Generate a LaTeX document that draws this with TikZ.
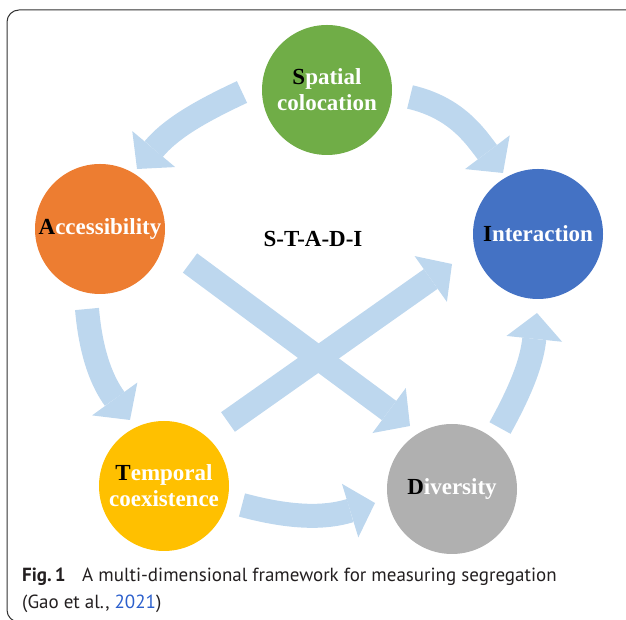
\documentclass[tikz,border=0pt]{standalone}
\usepackage{fontspec}
\setmainfont{Liberation Serif}
\newfontfamily\capfont{PT Sans}
\usetikzlibrary{arrows.meta}
\definecolor{arrowblue}{HTML}{BDD7EE}
\definecolor{sgreen}{HTML}{70AD47}
\definecolor{aorange}{HTML}{ED7D31}
\definecolor{iblue}{HTML}{4472C4}
\definecolor{tyellow}{HTML}{FFC000}
\definecolor{dgray}{HTML}{B0B0B0}
\definecolor{capblue}{HTML}{2B5FCC}
\definecolor{captext}{HTML}{231F20}
\begin{document}
\begin{tikzpicture}[x=1pt,y=1pt,
  dim/.style={circle, minimum size=130pt, inner sep=0pt, text=white, align=center,
    font=\fontsize{23}{26}\selectfont\bfseries},
  flow/.style={draw=arrowblue, line width=24pt,
    -{Triangle[width=56pt,length=26pt,line width=0pt]}},
  frame/.style={draw=black!80, line width=1pt, rounded corners=12pt},
]
\useasboundingbox (0,0) rectangle (626,620);
\draw[frame] (7,-2) rectangle (660,610);

% arrow end points
\coordinate (sa1) at (242,528); \coordinate (sa2) at (137,451);
\coordinate (si1) at (410,523); \coordinate (si2) at (503,447);
\coordinate (at1) at (87,311);  \coordinate (at2) at (130,200);
\coordinate (td1) at (242,115); \coordinate (td2) at (375,117);
\coordinate (di1) at (500,192); \coordinate (di2) at (537,307);
\coordinate (ad1) at (190,357); \coordinate (ad2) at (410,194);
\coordinate (ti1) at (228,198); \coordinate (ti2) at (452,356);

\draw[flow] (sa1) to[out=205,in=50] (sa2);
\draw[flow] (si1) to[out=-13,in=127] (si2);
\draw[flow] (at1) to[out=-85,in=126] (at2);
\draw[flow] (td1) to[out=-15,in=197] (td2);
\draw[flow] (di1) to[out=61,in=264] (di2);
\draw[flow] (ad1) -- (ad2);
\draw[flow] (ti1) -- (ti2);

\node[dim, fill=sgreen]  (S) at (327,530) {\textcolor{black}{S}patial\\colocation};
\node[dim, fill=aorange] (A) at (100,391) {\textcolor{black}{A}ccessibility};
\node[dim, fill=iblue]   (I) at (538,386) {\textcolor{black}{I}nteraction};
\node[dim, fill=tyellow] (T) at (164,134) {\textcolor{black}{T}emporal\\coexistence};
\node[dim, fill=dgray]   (D) at (452,131) {\textcolor{black}{D}iversity};

\node[font=\fontsize{23}{26}\selectfont\bfseries] (stadi) at (313,381) {S-T-A-D-I};

\node[anchor=north west, align=left, inner sep=0pt, text=captext,
  font=\capfont\fontsize{19}{27}\selectfont] (cap) at (22,52)
  {\textbf{Fig.\,1}\hspace{0.6em} A multi-dimensional framework for measuring segregation\\(Gao et al., \textcolor{capblue}{2021})};
\end{tikzpicture}
\end{document}
